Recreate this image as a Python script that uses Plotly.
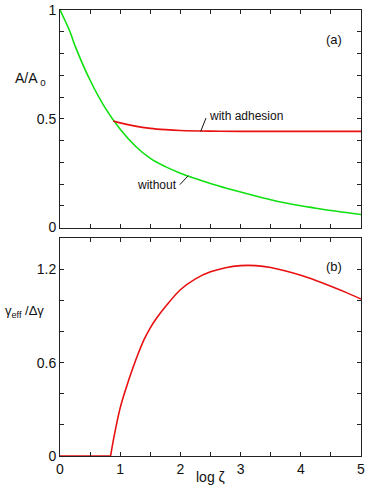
import plotly.graph_objects as go
from plotly.subplots import make_subplots

# --- panel (a): contact area vs magnification ---
x_without = [0, 0.166, 0.25, 0.5, 0.75, 1.0, 1.25, 1.5, 1.75, 2.0, 2.25, 2.5, 2.75, 3.0, 3.25, 3.5, 3.75, 4.0, 4.25, 4.5, 4.75, 5.0]
a_without = [1.0, 0.9, 0.835, 0.677, 0.55, 0.452, 0.375, 0.318, 0.28, 0.25, 0.225, 0.202, 0.182, 0.163, 0.145, 0.128, 0.113, 0.1, 0.089, 0.078, 0.069, 0.06]

x_adhesion = [0.885, 1.0, 1.25, 1.5, 1.75, 2.0, 2.5, 3.0, 4.0, 5.0]
a_adhesion = [0.49, 0.481, 0.466, 0.456, 0.45, 0.446, 0.443, 0.442, 0.442, 0.442]

# --- panel (b): effective interfacial energy ---
x_gamma_flat = [0, 0.84]
g_gamma_flat = [0, 0]
x_gamma = [0.84, 0.9, 1.0, 1.1, 1.2, 1.3, 1.4, 1.5, 1.6, 1.75, 2.0, 2.25, 2.5, 2.75, 3.0, 3.25, 3.5, 3.75, 4.0, 4.25, 4.5, 4.75, 5.0]
g_gamma = [0, 0.13, 0.31, 0.44, 0.555, 0.66, 0.752, 0.825, 0.885, 0.96, 1.07, 1.14, 1.185, 1.212, 1.225, 1.225, 1.213, 1.19, 1.163, 1.13, 1.093, 1.053, 1.01]

x_ticks = [i * 0.5 for i in range(11)]
x_labels = ['0', '', '1', '', '2', '', '3', '', '4', '', '5']
ya_ticks = [i * 0.1 for i in range(11)]
ya_labels = ['0', '', '', '', '', '0.5', '', '', '', '', '1']
yb_ticks = [i * 0.2 for i in range(8)]
yb_labels = ['0', '', '', '0.6', '', '', '1.2', '']

GREEN = '#10e010'
RED = '#e81010'
FONT = 'Liberation Sans, Arial, sans-serif'
TXT = '#111'

fig = make_subplots(rows=2, cols=1, vertical_spacing=0.0245)

fig.add_trace(go.Scatter(x=x_without, y=a_without, mode='lines', line=dict(color=GREEN, width=1.6, shape='spline'),
                         cliponaxis=False), row=1, col=1)
fig.add_trace(go.Scatter(x=x_adhesion, y=a_adhesion, mode='lines', line=dict(color=RED, width=1.6, shape='spline'),
                         cliponaxis=False), row=1, col=1)
fig.add_trace(go.Scatter(x=x_gamma_flat, y=g_gamma_flat, mode='lines', line=dict(color=RED, width=1.6),
                         cliponaxis=False), row=2, col=1)
fig.add_trace(go.Scatter(x=x_gamma, y=g_gamma, mode='lines', line=dict(color=RED, width=1.6, shape='spline'),
                         cliponaxis=False), row=2, col=1)

axis_common = dict(showline=True, mirror='ticks', linecolor='#222', linewidth=1, ticks='inside', ticklen=4,
                   tickcolor='#222', showgrid=False, zeroline=False, automargin=False, ticklabeloverflow='allow',
                   tickfont=dict(family=FONT, size=14, color=TXT))

fig.update_xaxes(range=[0, 5], tickmode='array', tickvals=x_ticks, **axis_common)
fig.update_xaxes(ticktext=[''] * len(x_ticks), row=1, col=1)
fig.update_xaxes(ticktext=x_labels, row=2, col=1)
fig.update_yaxes(range=[0, 1], tickmode='array', tickvals=ya_ticks, ticktext=ya_labels, row=1, col=1, **axis_common)
fig.update_yaxes(range=[0, 1.4], tickmode='array', tickvals=yb_ticks, ticktext=yb_labels, row=2, col=1, **axis_common)

# leader lines for curve labels
fig.add_shape(type='line', x0=2.337, y0=0.442, x1=2.425, y1=0.503, line=dict(color=TXT, width=1), xref='x', yref='y')
fig.add_shape(type='line', x0=2.13, y0=0.238, x1=1.99, y1=0.197, line=dict(color=TXT, width=1), xref='x', yref='y')

fig.add_annotation(x=2.44, y=0.514, xref='x', yref='y', text='with adhesion', showarrow=False, xanchor='left',
                   font=dict(family=FONT, size=12, color=TXT))
fig.add_annotation(x=1.97, y=0.197, xref='x', yref='y', text='without', showarrow=False, xanchor='right', yanchor='middle',
                   font=dict(family=FONT, size=12, color=TXT))

fig.add_annotation(x=0.945, y=0.91, xref='x domain', yref='y domain', text='(a)', showarrow=False,
                   font=dict(family=FONT, size=13, color=TXT))
fig.add_annotation(x=0.945, y=0.915, xref='x2 domain', yref='y2 domain', text='(b)', showarrow=False,
                   font=dict(family=FONT, size=13, color=TXT))

# axis titles
fig.add_annotation(x=0, y=0.87, xref='paper', yref='paper', text='A/A<sub> 0</sub>', showarrow=False, xanchor='left',
                   xshift=-47, font=dict(family=FONT, size=14, color=TXT))
fig.add_annotation(x=0, y=0.301, xref='paper', yref='paper', text='γ<sub>eff</sub> /Δγ', showarrow=False, xanchor='left',
                   xshift=-57, font=dict(family=FONT, size=13, color=TXT))
fig.add_annotation(x=0.5, y=-0.0695, xref='paper', yref='paper', text='log ζ', showarrow=False,
                   font=dict(family=FONT, size=14, color=TXT))

fig.update_layout(width=374, height=502, margin=dict(l=60, r=13, t=10, b=46), showlegend=False,
                  plot_bgcolor='white', paper_bgcolor='white')

# drop the default body margin so the figure fills the window
fig.write_html("out.html", config={'displayModeBar': False}, post_script="document.body.style.margin='0';")
